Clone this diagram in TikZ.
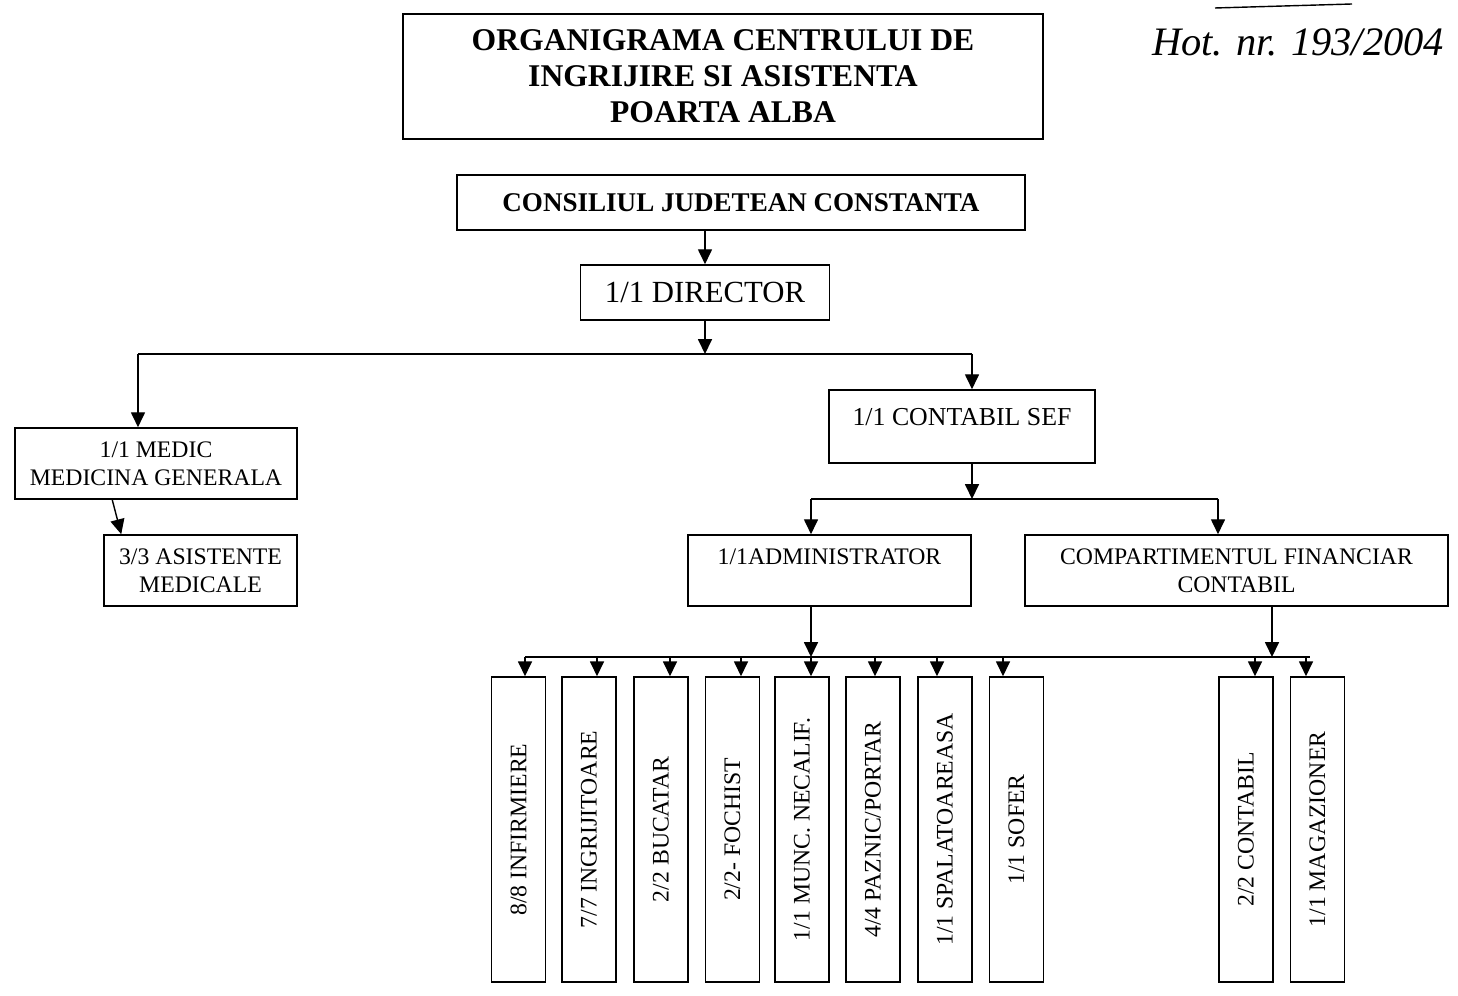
\documentclass[tikz,border=0pt]{standalone}
\usepackage{fontspec}
\setmainfont{Liberation Serif}
\usetikzlibrary{arrows.meta,calc}
\tikzset{
  box/.style={draw, line width=0.9pt, align=center, inner sep=2pt, font=\fontsize{13.5}{16}\selectfont},
  vbox/.style={box, minimum width=1.08cm, minimum height=6.1cm},
  arr/.style={line width=0.8pt, -{Triangle[width=8pt,length=8.5pt]}}
}
\begin{document}
\begin{tikzpicture}[x=0.02cm, y=-0.02cm]
\useasboundingbox (0,0) rectangle (1458,996);
% titlu
\node[box, minimum width=12.8cm, minimum height=2.5cm, font=\fontsize{18}{20.5}\selectfont\bfseries] (titlu) at (723,76.5)
  {ORGANIGRAMA CENTRULUI DE\\INGRIJIRE SI ASISTENTA\\POARTA ALBA};
\node[font=\fontsize{23}{23}\selectfont\itshape] (hot) at (1298,42) {Hot. nr. 193/2004};
\draw[line width=0.8pt] (1215,8) -- (1352,4);
% conducere
\node[box, minimum width=11.36cm, minimum height=1.1cm, font=\fontsize{15.4}{18}\selectfont\bfseries] (cj) at (741,202.5) {CONSILIUL JUDETEAN CONSTANTA};
\node[box, minimum width=4.98cm, minimum height=1.1cm, font=\fontsize{17.5}{20}\selectfont] (dir) at (705,292.5) {1/1 DIRECTOR};
\draw[arr] (cj.south -| dir.north) -- (dir.north);
% nivel 2
\node[box, minimum width=5.64cm, minimum height=1.42cm] (med) at (156,463.5) {1/1 MEDIC\\MEDICINA GENERALA};
\node[box, minimum width=3.86cm, minimum height=1.42cm] (asist) at (200.5,570.5) {3/3 ASISTENTE\\MEDICALE};
\node[box, minimum width=5.32cm, minimum height=1.46cm, font=\fontsize{14.7}{11}\selectfont] (cs) at (962,426.5) {1/1 CONTABIL SEF\\~};
\coordinate (busA) at (705,354);
\coordinate (busAl) at (138,354);
\coordinate (busAr) at (972,354);
\draw[arr] (dir.south -| busA) -- (busA);
\draw[line width=0.8pt] (busAl) -- (busAr);
\draw[arr] (busAl) -- (busAl |- med.north);
\draw[arr] (busAr) -- (busAr |- cs.north);
\draw[arr] ($(med.south west)+(98,0)$) -- ($(asist.north west)+(18,0)$);
% nivel 3
\node[box, minimum width=5.66cm, minimum height=1.42cm] (adm) at (829.5,570.5) {1/1ADMINISTRATOR\\~};
\node[box, minimum width=8.46cm, minimum height=1.42cm] (comp) at (1236.5,570.5) {COMPARTIMENTUL FINANCIAR\\CONTABIL};
\coordinate (busB) at (972,499);
\coordinate (busBl) at (811,499);
\coordinate (busBr) at (1218,499);
\draw[arr] (cs.south -| busB) -- (busB);
\draw[line width=0.8pt] (busBl) -- (busBr);
\draw[arr] (busBl) -- (busBl |- adm.north);
\draw[arr] (busBr) -- (busBr |- comp.north);
% personal
\foreach \n/\x/\ax/\t in {1/518.5/525/{8/8 INFIRMIERE}, 2/589/597/{7/7 INGRIJITOARE}, 3/661/670/{2/2 BUCATAR},
  4/732.5/741/{2/2- FOCHIST}, 5/802/811/{1/1 MUNC. NECALIF.}, 6/873/875/{4/4 PAZNIC/PORTAR},
  7/945/937/{1/1 SPALATOAREASA}, 8/1016.5/1003/{1/1 SOFER}, 9/1246/1255/{2/2 CONTABIL}, 10/1317.5/1306/{1/1 MAGAZIONER}}
{
  \node[vbox] (v\n) at (\x,829.5) {};
  \node[rotate=90, font=\fontsize{13.5}{16}\selectfont] (l\n) at (v\n.center) {\t};
  \coordinate (t\n) at (\ax,657);
  \draw[arr] (t\n) -- (t\n |- v\n.north);
}
\coordinate (ta) at (811,657);
\coordinate (tc) at (1272,657);
\draw[line width=0.8pt] (t1) -- ($(t10)+(4,0)$);
\draw[arr] (adm.south -| ta) -- (ta);
\draw[arr] (comp.south -| tc) -- (tc);
\end{tikzpicture}
\end{document}
